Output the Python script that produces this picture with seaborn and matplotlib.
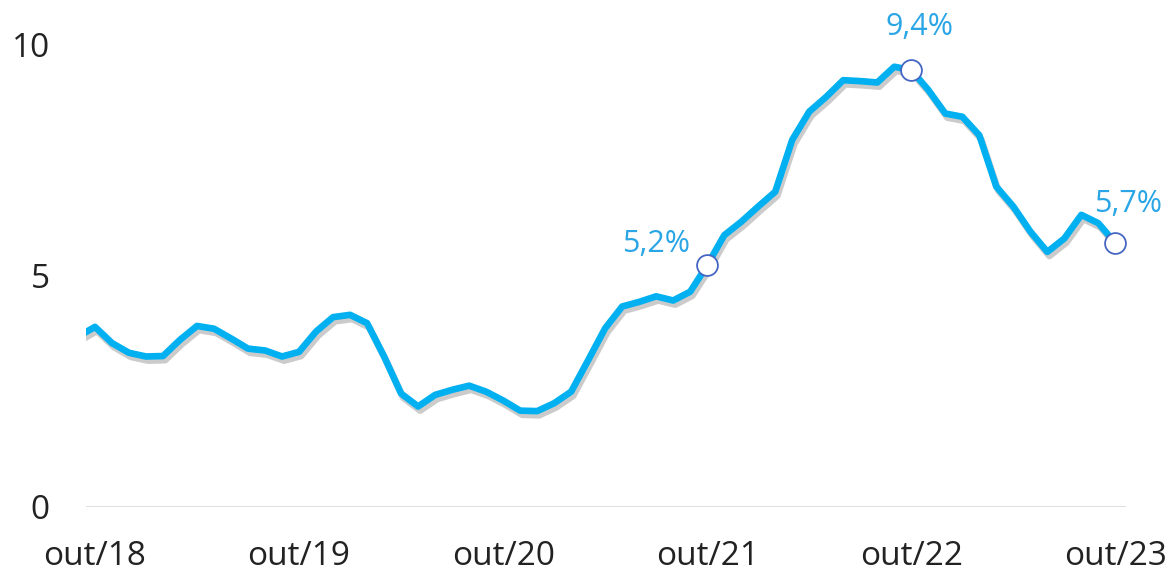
import numpy as np
import pandas as pd
import seaborn as sns
import matplotlib.pyplot as plt
import matplotlib.patheffects as pe

# monthly series, set/18 .. out/23 (month index -1 .. 60, out/18 = 0)
month_idx = list(range(-1, 61))
values = [3.68,
          3.89, 3.54, 3.33, 3.25, 3.26, 3.61, 3.91, 3.85, 3.64, 3.42, 3.38, 3.25,
          3.35, 3.79, 4.10, 4.15, 3.97, 3.25, 2.45, 2.17, 2.42, 2.53, 2.62, 2.49,
          2.30, 2.08, 2.07, 2.24, 2.49, 3.17, 3.86, 4.33, 4.43, 4.55, 4.46, 4.65,
          5.22, 5.87, 6.16, 6.49, 6.81, 7.93, 8.54, 8.86, 9.22, 9.20, 9.17, 9.51,
          9.44, 9.01, 8.50, 8.43, 8.03, 6.92, 6.49, 5.95, 5.51, 5.80, 6.31, 6.13,
          5.70]
tick_pos = [0, 12, 24, 36, 48, 60]
tick_labels = ['out/18', 'out/19', 'out/20', 'out/21', 'out/22', 'out/23']
y_ticks = [0, 5, 10]
highlight_pos = [36, 48, 60]
highlight_labels = ['5,2%', '9,4%', '5,7%']

df = pd.DataFrame({'mes': month_idx, 'valor': values})

sns.set_style('white')
plt.rcParams['font.family'] = ['Open Sans', 'DejaVu Sans']

line_color = '#00B0F0'
label_color = '#2AA6E6'

fig = plt.figure(figsize=(11.76, 5.8), dpi=100)
ax = fig.add_axes([0.0731, 0.126, 0.884, 0.798])

sns.lineplot(data=df, x='mes', y='valor', ax=ax, color=line_color, linewidth=4.8,
             solid_joinstyle='round',
             path_effects=[pe.SimpleLineShadow(offset=(1.5, -3), shadow_color='#555555', alpha=0.3),
                           pe.Normal()])

# highlighted points
hl = df[df['mes'].isin(highlight_pos)]
ax.plot(hl['mes'], hl['valor'], 'o', markersize=15, markerfacecolor='white',
        markeredgecolor='#4566C2', markeredgewidth=1.3, zorder=5)

offsets = {36: (-37, 15), 48: (6, 31), 60: (9, 28)}
for pos, lab in zip(highlight_pos, highlight_labels):
    yv = df.loc[df['mes'] == pos, 'valor'].iloc[0]
    ax.annotate(lab, (pos, yv), xytext=offsets[pos], textcoords='offset points',
                ha='center', va='center', color=label_color, fontsize=22,
                annotation_clip=False)

ax.axhline(0, color='#d9d9d9', linewidth=1.2, zorder=0)
ax.set_xlim(-0.53, 60.6)
ax.set_ylim(0, 10)
ax.set_xticks(tick_pos)
ax.set_xticklabels(tick_labels)
ax.set_yticks(y_ticks)
ax.tick_params(axis='both', length=0, labelsize=24, colors='#222222')
ax.tick_params(axis='y', pad=26)
ax.tick_params(axis='x', pad=24)
ax.set_xlabel('')
ax.set_ylabel('')
sns.despine(ax=ax, left=True, bottom=True)

fig.savefig('out.png', dpi=100)
